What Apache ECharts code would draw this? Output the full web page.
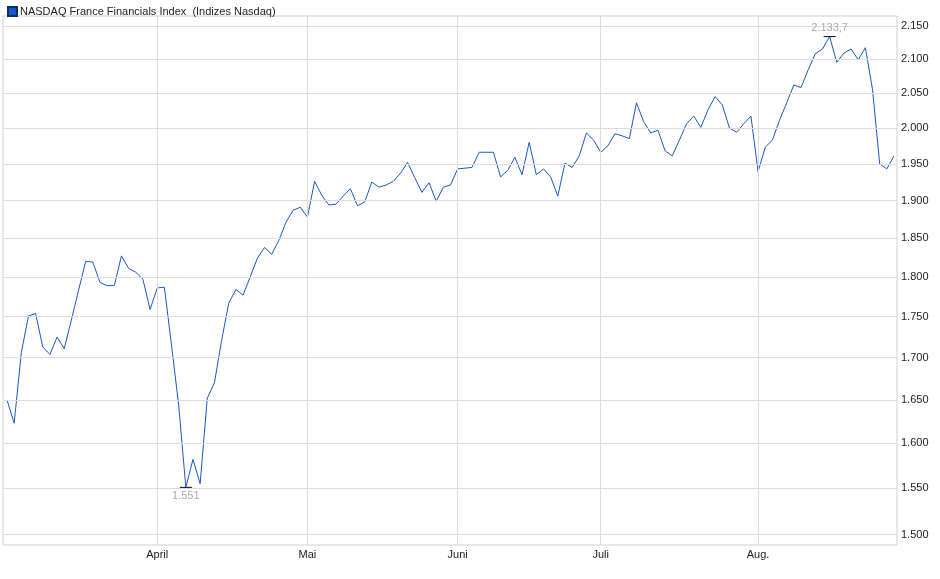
<!DOCTYPE html>
<html><head><meta charset="utf-8">
<script src="https://cdn.jsdelivr.net/npm/echarts@6/dist/echarts.min.js"></script>
<style>html,body{margin:0;padding:0;background:#fff}#c{width:940px;height:579px}</style>
</head><body><div id="c"></div>
<script>
const values = [1650,1623,1706,1751,1754,1713,1704,1725,1711,1746,1783,1820,1819,1793,1789,1789,1827,1811,1806,1797,1759,1786,1787,1715,1644,1551,1582,1555,1652,1670,1721,1767,1784,1777,1800,1824,1838,1829,1847,1871,1887,1891,1878,1926,1907,1894,1895,1906,1916,1893,1898,1925,1918,1921,1926,1937,1952,1931,1911,1924,1899,1918,1921,1943,1944,1945,1966,1966,1966,1932,1941,1959,1935,1980,1935,1943,1932,1906,1951,1945,1961,1993,1983,1966,1975,1992,1989,1985,2036,2009,1993,1997,1968,1961,1983,2006,2017,2001,2026,2045,2033,2000,1994,2006,2017,1939,1973,1983,2011,2036,2062,2058,2084,2108,2115,2133.7,2095,2109,2115,2099,2117,2055,1950,1943,1961];
const monthIdx = [21,42,63,83,105];
const monthLabels = ['April','Mai','Juni','Juli','Aug.'];
const yTicks = [1500,1550,1600,1650,1700,1750,1800,1850,1900,1950,2000,2050,2100,2150];
const seriesName = 'NASDAQ France Financials Index  (Indizes Nasdaq)';
const minIdx = 25, minVal = 1551, maxIdx = 115, maxVal = 2133.7;

const L = v => Math.round(Math.log(v) * 100000);
const fmt = v => String(v).replace(/\B(?=(\d{3})+(?!\d))/g,'.');
const data = values.map((v,i)=>[i, L(v)]);
const hLines = yTicks.map(t=>({yAxis:L(t), label:{formatter:fmt(t)}}));
const vLines = monthIdx.map((m,k)=>({xAxis:m, label:{formatter:monthLabels[k]}}));

const chart = echarts.init(document.getElementById('c'));
chart.setOption({
  animation:false,
  textStyle:{fontFamily:'Liberation Sans, Arial, sans-serif'},
  legend:{left:2, top:1, itemWidth:9, itemHeight:9, itemGap:5, icon:'rect',
    textStyle:{fontSize:11,color:'#222',padding:[0,0,0,-2]}, data:[seriesName]},
  grid:{left:3, right:43, top:16, bottom:34, show:true, borderColor:'#cfcfcf', borderWidth:1},
  xAxis:{type:'value', min:-0.56, max:124.42, axisLine:{show:false}, axisTick:{show:false},
    axisLabel:{show:false}, splitLine:{show:false}},
  yAxis:{type:'value', min:L(1489), max:L(2165), scale:true, axisLine:{show:false}, axisTick:{show:false},
    axisLabel:{show:false}, splitLine:{show:false}},
  series:[
    {type:'line', name:'grid', silent:true, data:[], markLine:{silent:true, symbol:'none', precision:0,
      lineStyle:{color:'#dcdcdc', type:'solid', width:1},
      label:{position:'end', color:'#222', fontSize:11, distance:4}, data:hLines}},
    {type:'line', name:'vgrid', silent:true, data:[], markLine:{silent:true, symbol:'none',
      lineStyle:{color:'#dcdcdc', type:'solid', width:1},
      label:{position:'start', color:'#222', fontSize:11, distance:4}, data:vLines}},
    {type:'line', name:seriesName, data:data, showSymbol:false, symbol:'none',
      itemStyle:{color:'#1a56c4', borderColor:'#0d2f70', borderWidth:1},
      lineStyle:{color:'#1a56c4', width:1},
      markPoint:{silent:true, symbol:'rect', symbolSize:[12,1], itemStyle:{color:'#000'},
        data:[
          {coord:[minIdx, L(minVal)], label:{show:true, position:'bottom', distance:3, formatter:fmt(minVal), color:'#aaa', fontSize:11}},
          {coord:[maxIdx, L(maxVal)], label:{show:true, position:'top', distance:3, formatter:'2.133,7', color:'#aaa', fontSize:11}}
        ]}}
  ]
});
</script></body></html>
